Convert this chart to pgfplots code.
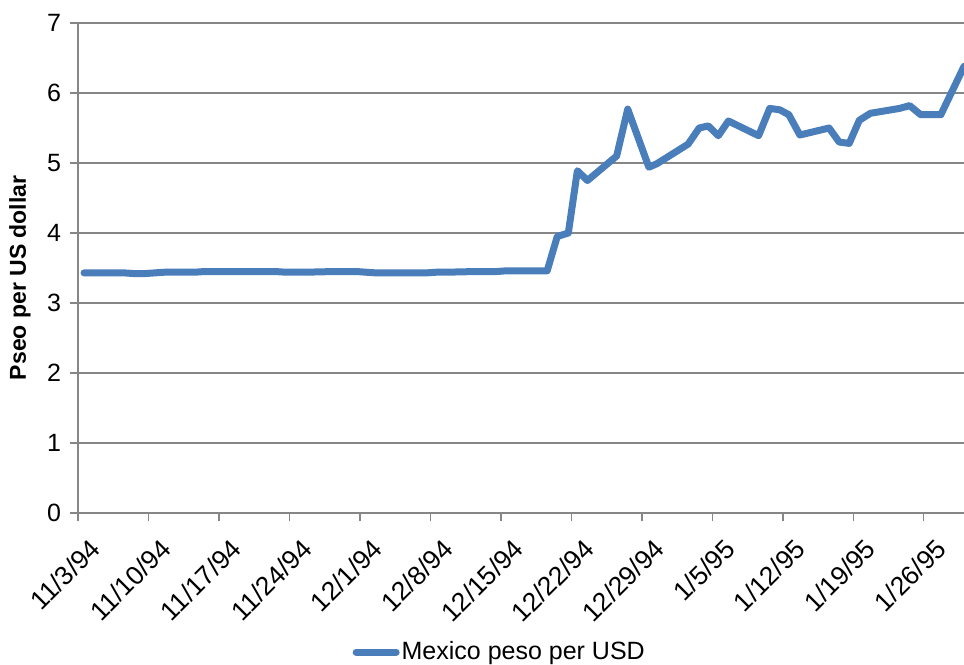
\documentclass[border=0pt]{standalone}
\usepackage{pgfplots}
\pgfplotsset{compat=1.18}
\usepackage{fontspec}
\setmainfont{Liberation Sans}
\definecolor{pesoblue}{HTML}{4A7EBB}
\definecolor{gridgray}{HTML}{868686}

\begin{document}
\begin{tikzpicture}
  \useasboundingbox (-39bp,-76bp) rectangle (443bp,256.5bp);
  \begin{axis}[
    at={(0,0)}, anchor=south west,
    scale only axis,
    width=443bp, height=245bp,
    xmin=0, xmax=88, ymin=0, ymax=7,
    axis x line=bottom, axis y line=left,
    axis line style={gridgray, line width=0.75bp, -},
    xtick={0,7,...,84},
    xticklabels={11/3/94,11/10/94,11/17/94,11/24/94,12/1/94,12/8/94,12/15/94,12/22/94,12/29/94,1/5/95,1/12/95,1/19/95,1/26/95},
    ytick={0,1,...,7},
    tick align=outside,
    major tick length=4bp,
    tick style={gridgray, line width=0.75bp},
    ymajorgrids,
    major grid style={gridgray, line width=0.75bp},
    tick label style={font=\fontsize{12.5bp}{15bp}\selectfont},
    /pgf/number format/assume math mode=true,
    yticklabel style={xshift=-1bp},
    x tick label style={font=\fontsize{13.2bp}{15bp}\selectfont, rotate=45, anchor=north east, xshift=1.5bp, yshift=-6bp},
    ylabel={Pseo per US dollar},
    ylabel style={font=\fontsize{11.5bp}{14bp}\selectfont\bfseries, at={(axis description cs:-0.0655,0.48)}, anchor=center},
    legend style={at={(0.476,-0.284)}, anchor=center, draw=none, fill=none,
      font=\fontsize{12.5bp}{15bp}\selectfont, inner sep=0pt,
      nodes={inner sep=1bp}},
    legend image code/.code={\draw[#1] (0bp,0bp) -- (20bp,0bp);},
    clip=false,
  ]
    \addplot[pesoblue, line width=3.5bp, line join=round, line cap=round] coordinates {
      (0.6,3.43) (1.6,3.43) (4.6,3.43) (5.6,3.42) (6.6,3.42) (7.6,3.43)
      (8.6,3.44) (11.6,3.44) (12.6,3.45) (13.6,3.45) (14.6,3.45) (15.6,3.45)
      (18.6,3.45) (19.6,3.45) (20.6,3.44) (21.6,3.44) (22.6,3.44) (25.6,3.45)
      (26.6,3.45) (27.6,3.45) (28.6,3.44) (29.6,3.43) (32.6,3.43) (33.6,3.43)
      (34.6,3.43) (35.6,3.44) (36.6,3.44) (39.6,3.45) (40.6,3.45) (41.6,3.45)
      (42.6,3.46) (43.6,3.46) (46.6,3.46)
      (47.6,3.95) (48.7,4.00) (49.6,4.89) (50.6,4.75) (53.5,5.10) (54.6,5.77)
      (56.7,4.94) (57.5,4.99) (60.6,5.27) (61.7,5.50) (62.6,5.53) (63.6,5.39)
      (64.6,5.60) (67.6,5.39) (68.7,5.78) (69.7,5.76) (70.6,5.69) (71.7,5.40)
      (74.6,5.50) (75.6,5.30) (76.6,5.28) (77.6,5.61) (78.7,5.71) (81.6,5.78)
      (82.6,5.82) (83.7,5.69) (85.7,5.69) (88.0,6.38)
    };
    \legend{Mexico peso per USD}
  \end{axis}
\end{tikzpicture}
\end{document}
